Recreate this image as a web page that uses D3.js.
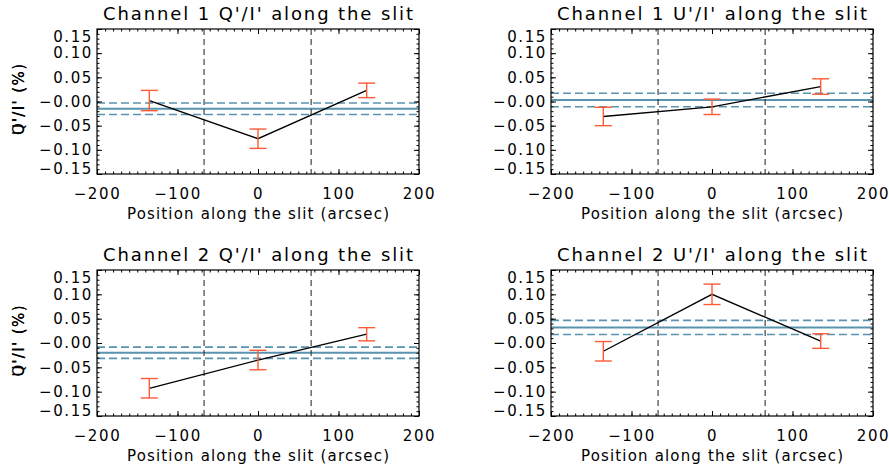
<!DOCTYPE html>
<html>
<head>
<meta charset="utf-8">
<script src="https://cdn.jsdelivr.net/npm/d3@7"></script>
<style>
  html, body { margin: 0; padding: 0; background: #fff; }
  svg { display: block; }
  text { font-family: "DejaVu Sans", sans-serif; fill: #000; }
</style>
</head>
<body>
<div id="chart"></div>
<script>
// Slit positions of the three sampled points (arcsec)
const positions = [-135, 0, 135];

// Channel 1
const ch1Q = [0.002, -0.077, 0.023];
const ch1QErr = [0.021, 0.020, 0.015];
const ch1U = [-0.031, -0.011, 0.031];
const ch1UErr = [0.019, 0.016, 0.016];

// Channel 2
const ch2Q = [-0.093, -0.035, 0.018];
const ch2QErr = [0.020, 0.020, 0.0135];
const ch2U = [-0.017, 0.100, 0.004];
const ch2UErr = [0.020, 0.021, 0.015];

// Mean level and its spread for each panel
const meanLevels = [-0.015, 0.003, -0.020, 0.032];
const meanSpreads = [0.012, 0.014, 0.0115, 0.0145];

// Edges of the central slit section
const slitEdges = [-67, 66];

// Axes
const xDomain = [-200, 200];
const yDomain = [-0.15, 0.15];
const xTicks = [-200, -100, 0, 100, 200];
const xTickLabels = ["\u2212200", "\u2212100", "0", "100", "200"];
const yTicks = [-0.15, -0.10, -0.05, 0.00, 0.05, 0.10, 0.15];
const yTickLabels = ["\u22120.15", "\u22120.10", "\u22120.05", "\u22120.00", "0.05", "0.10", "0.15"];

const titles = [
  "Channel 1 Q'/I' along the slit",
  "Channel 1 U'/I' along the slit",
  "Channel 2 Q'/I' along the slit",
  "Channel 2 U'/I' along the slit"
];
const yLabels = ["Q'/I' (%)", "U'/I' (%)", "Q'/I' (%)", "U'/I' (%)"];
const xLabel = "Position along the slit (arcsec)";

const values = [ch1Q, ch1U, ch2Q, ch2U];
const errors = [ch1QErr, ch1UErr, ch2QErr, ch2UErr];

const W = 889, H = 471;
const boxes = [
  { left: 97, top: 29, width: 322, height: 145 },
  { left: 551, top: 29, width: 322, height: 145 },
  { left: 97, top: 270, width: 322, height: 146 },
  { left: 551, top: 270, width: 322, height: 146 }
];

const svg = d3.select("#chart").append("svg")
  .attr("width", W).attr("height", H);

const errColor = "#ff5a36";
const meanColor = "#5a93ae";

boxes.forEach((b, i) => {
  const g = svg.append("g").attr("transform", `translate(${b.left},${b.top})`);
  const x = d3.scaleLinear().domain(xDomain).range([0, b.width]);
  const y = d3.scaleLinear().domain(yDomain).range([b.height, 0]);

  // mean level (solid) and spread (dashed)
  g.append("line")
    .attr("x1", 0).attr("x2", b.width)
    .attr("y1", y(meanLevels[i])).attr("y2", y(meanLevels[i]))
    .attr("stroke", meanColor).attr("stroke-width", 2);
  [meanLevels[i] + meanSpreads[i], meanLevels[i] - meanSpreads[i]].forEach(v => {
    g.append("line")
      .attr("x1", 0).attr("x2", b.width)
      .attr("y1", y(v)).attr("y2", y(v))
      .attr("stroke", meanColor).attr("stroke-width", 1.6)
      .attr("stroke-dasharray", "8,4");
  });

  // slit section boundaries
  slitEdges.forEach(e => {
    g.append("line")
      .attr("x1", x(e)).attr("x2", x(e))
      .attr("y1", 0).attr("y2", b.height)
      .attr("stroke", "#333").attr("stroke-width", 1.1)
      .attr("stroke-dasharray", "6,4");
  });

  // profile line
  const pts = positions.map((p, k) => [p, values[i][k]]);
  g.append("path")
    .attr("d", d3.line().x(d => x(d[0])).y(d => y(d[1]))(pts))
    .attr("fill", "none").attr("stroke", "#000").attr("stroke-width", 1.3);

  // error bars
  positions.forEach((p, k) => {
    const v = values[i][k], e = errors[i][k];
    const eg = g.append("g").attr("stroke", errColor).attr("stroke-width", 1.4);
    eg.append("line").attr("x1", x(p)).attr("x2", x(p))
      .attr("y1", y(v + e)).attr("y2", y(v - e));
    [v + e, v - e].forEach(t => {
      eg.append("line").attr("x1", x(p) - 8.5).attr("x2", x(p) + 8.5)
        .attr("y1", y(t)).attr("y2", y(t));
    });
  });

  // axes with inward ticks on all four sides
  const xMinor = d3.range(xDomain[0], xDomain[1] + 0.001, 10);
  const yMinor = d3.range(-15, 16, 1).map(v => v / 100);

  const minorStyle = sel => { sel.select(".domain").remove(); sel.selectAll("text").remove(); sel.selectAll("line").attr("stroke", "#000"); };

  g.append("g").attr("transform", `translate(0,${b.height})`)
    .call(d3.axisBottom(x).tickValues(xMinor).tickSize(-2.5).tickFormat(""))
    .call(minorStyle);
  g.append("g")
    .call(d3.axisTop(x).tickValues(xMinor).tickSize(-2.5).tickFormat(""))
    .call(minorStyle);
  g.append("g")
    .call(d3.axisLeft(y).tickValues(yMinor).tickSize(-2.5).tickFormat(""))
    .call(minorStyle);
  g.append("g").attr("transform", `translate(${b.width},0)`)
    .call(d3.axisRight(y).tickValues(yMinor).tickSize(-2.5).tickFormat(""))
    .call(minorStyle);

  const xAx = g.append("g").attr("transform", `translate(0,${b.height})`)
    .call(d3.axisBottom(x).tickValues(xTicks).tickSize(-5).tickPadding(14)
      .tickFormat((d, j) => xTickLabels[j]));
  xAx.select(".domain").remove();
  xAx.selectAll("line").attr("stroke", "#000");
  xAx.selectAll("text").attr("font-size", 15).attr("letter-spacing", "1.6px")
    .attr("fill", "#000");

  g.append("g")
    .call(d3.axisTop(x).tickValues(xTicks).tickSize(-5).tickFormat(""))
    .call(minorStyle);

  const yAx = g.append("g")
    .call(d3.axisLeft(y).tickValues(yTicks).tickSize(-5).tickPadding(4)
      .tickFormat((d, j) => yTickLabels[j]));
  yAx.select(".domain").remove();
  yAx.selectAll("line").attr("stroke", "#000");
  yAx.selectAll("text").attr("font-size", 15).attr("letter-spacing", "1.6px")
    .attr("fill", "#000")
    .attr("dy", d => d > 0.14 ? "0.82em" : d < -0.14 ? "-0.05em" : "0.32em");

  g.append("g").attr("transform", `translate(${b.width},0)`)
    .call(d3.axisRight(y).tickValues(yTicks).tickSize(-5).tickFormat(""))
    .call(minorStyle);

  // frame
  g.append("rect").attr("x", 0).attr("y", 0)
    .attr("width", b.width).attr("height", b.height)
    .attr("fill", "none").attr("stroke", "#000").attr("stroke-width", 1.2);

  // texts
  g.append("text")
    .attr("x", b.width / 2).attr("y", -9)
    .attr("text-anchor", "middle").attr("font-size", 18)
    .attr("textLength", 310).attr("lengthAdjust", "spacing")
    .text(titles[i]);

  g.append("text")
    .attr("x", b.width / 2).attr("y", b.height + 45)
    .attr("text-anchor", "middle").attr("font-size", 15)
    .attr("textLength", 262).attr("lengthAdjust", "spacing")
    .text(xLabel);

  g.append("text")
    .attr("transform", `translate(${-b.left + 24},${b.height / 2 - 2}) rotate(-90)`)
    .attr("text-anchor", "middle").attr("font-size", 15)
    .attr("textLength", 71).attr("lengthAdjust", "spacing")
    .text(yLabels[i]);
});
</script>
</body>
</html>
